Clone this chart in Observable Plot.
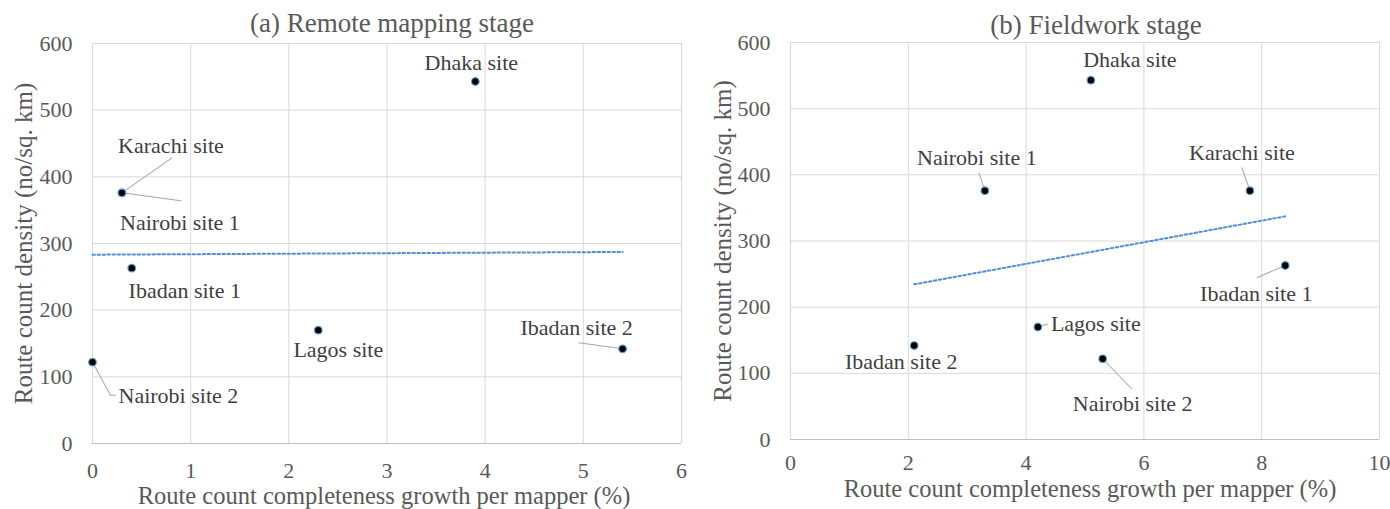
<!DOCTYPE html>
<html>
<head>
<meta charset="utf-8">
<script src="https://cdn.jsdelivr.net/npm/d3@7"></script>
<script src="https://cdn.jsdelivr.net/npm/@observablehq/plot@0.6"></script>
<style>
  html, body { margin: 0; padding: 0; background: #fff; }
  #wrap { display: flex; width: 1390px; height: 509px; }
  #wrap svg, #wrap svg text { font-family: "Liberation Serif", "Times New Roman", serif !important; }
</style>
</head>
<body>
<div id="wrap"></div>
<script>
// ---- data ----
const sites = ["Dhaka site", "Karachi site", "Nairobi site 1", "Ibadan site 1", "Lagos site", "Ibadan site 2", "Nairobi site 2"];
const density = [543, 376, 376, 263, 170, 142, 122];
const growthRemote = [3.9, 0.3, 0.3, 0.4, 2.3, 5.4, 0];
const growthField = [5.1, 7.8, 3.3, 8.4, 4.2, 2.1, 5.3];
const xTicksRemote = [0, 1, 2, 3, 4, 5, 6];
const xTicksField = [0, 2, 4, 6, 8, 10];
const yTicks = [0, 100, 200, 300, 400, 500, 600];
const titleRemote = "(a) Remote mapping stage";
const titleField = "(b) Fieldwork stage";
const xLabel = "Route count completeness growth per mapper (%)";
const yLabel = "Route count density (no/sq. km)";

// ---- label layout (pixel offsets from the point) ----
const layoutRemote = {
  "Dhaka site":     {dx: -4, dy: -19, anchor: "middle"},
  "Karachi site":   {dx: 49, dy: -47, anchor: "middle", leaders: [[0, 0, 50, -35]]},
  "Nairobi site 1": {dx: 58, dy: 30, anchor: "middle", leaders: [[0, 0, 59, 8]]},
  "Ibadan site 1":  {dx: 53, dy: 23, anchor: "middle"},
  "Lagos site":     {dx: 20, dy: 20, anchor: "middle"},
  "Ibadan site 2":  {dx: -46, dy: -21, anchor: "middle", leaders: [[0, 0, -44, -6]]},
  "Nairobi site 2": {dx: 26, dy: 34, anchor: "start", leaders: [[0, 0, 18, 33], [18, 33, 23, 33]]}
};
const layoutField = {
  "Dhaka site":     {dx: 39, dy: -20, anchor: "middle"},
  "Karachi site":   {dx: -8, dy: -38, anchor: "middle", leaders: [[0, 0, -8, -23]]},
  "Nairobi site 1": {dx: -8, dy: -33, anchor: "middle", leaders: [[0, 0, -6, -18]]},
  "Ibadan site 1":  {dx: -29, dy: 28, anchor: "middle", leaders: [[0, 0, -28, 12]]},
  "Lagos site":     {dx: 13, dy: -3, anchor: "start", leaders: [[0, 0, 10, -3]]},
  "Ibadan site 2":  {dx: -13, dy: 16, anchor: "middle"},
  "Nairobi site 2": {dx: 30, dy: 45, anchor: "middle", leaders: [[0, 0, 29, 30]]}
};

const leaderShape = {
  draw(context, l) { context.moveTo(0, 0); context.lineTo(0, -l); }
};

const TEXT = "#595959";
const FONT = "Liberation Serif";

function panel(growth, xTicks, layout, title, m, extra) {
  const data = sites.map((s, i) => ({site: s, x: growth[i], y: density[i]}));
  const labelMarks = [];
  const leaderMarks = [];
  for (const d of data) {
    const L = layout[d.site];
    labelMarks.push(Plot.text([d], {
      x: "x", y: "y", text: "site", dx: L.dx, dy: L.dy, textAnchor: L.anchor,
      fontSize: 22, fontFamily: FONT, fill: "#404040"
    }));
    for (const [x0, y0, x1, y1] of (L.leaders || [])) {
      const ddx = x1 - x0, ddy = y1 - y0;
      leaderMarks.push(Plot.vector([d], {
        x: "x", y: "y", dx: x0, dy: y0,
        length: Math.hypot(ddx, ddy),
        rotate: Math.atan2(ddx, -ddy) * 180 / Math.PI,
        anchor: "start", shape: leaderShape,
        stroke: "#a6a6a6", strokeWidth: 1
      }));
    }
  }
  return Plot.plot({
    width: 695, height: 509,
    marginTop: m.top, marginBottom: m.bottom, marginLeft: m.left, marginRight: m.right,
    style: {fontFamily: FONT, fontSize: "22px", color: TEXT, background: "#fff", overflow: "visible"},
    x: {domain: [xTicks[0], xTicks[xTicks.length - 1]]},
    y: {domain: [0, 600]},
    marks: [
      Plot.gridX(xTicks, {stroke: "#d9d9d9", strokeOpacity: 1}),
      Plot.gridY(yTicks, {stroke: "#d9d9d9", strokeOpacity: 1}),
      Plot.ruleY([0], {stroke: "#bfbfbf", strokeWidth: 1}),
      Plot.linearRegressionY(data, {x: "x", y: "y", ci: 0, stroke: "#4f8fd6", strokeWidth: 2, strokeDasharray: "2.5,2.5"}),
      ...leaderMarks,
      Plot.dot(data, {x: "x", y: "y", r: 3.8, fill: "#000", stroke: "#5B9BD5", strokeWidth: 1.2}),
      ...labelMarks,
      Plot.axisX(xTicks, {tickSize: 0, tickPadding: m.xPad, label: null, fill: TEXT, fontSize: 22, fontFamily: FONT}),
      Plot.axisY(yTicks, {tickSize: 0, tickPadding: 20, label: null, fill: TEXT, fontSize: 22, fontFamily: FONT}),
      Plot.text([title], {frameAnchor: "top", textAnchor: "middle", lineAnchor: "middle", dx: extra.titleDx, dy: extra.titleDy, fontSize: 27, fontFamily: FONT, fill: TEXT}),
      Plot.text([xLabel], {frameAnchor: "bottom", textAnchor: "middle", lineAnchor: "middle", dx: extra.xlDx, dy: extra.xlDy, fontSize: 24.5, fontFamily: FONT, fill: TEXT}),
      Plot.text([yLabel], {frameAnchor: "left", textAnchor: "middle", lineAnchor: "middle", dx: extra.ylDx, rotate: -90, fontSize: 25, fontFamily: FONT, fill: TEXT})
    ]
  });
}

const wrap = document.getElementById("wrap");
wrap.append(panel(growthRemote, xTicksRemote, layoutRemote, titleRemote,
  {top: 43, bottom: 66, left: 92, right: 14, xPad: 19},
  {titleDx: 5, titleDy: -20, xlDx: -3, xlDy: 53, ylDx: -69}));
wrap.append(panel(growthField, xTicksField, layoutField, titleField,
  {top: 42, bottom: 70, left: 95, right: 11, xPad: 15},
  {titleDx: 11, titleDy: -17, xlDx: 5, xlDy: 50, ylDx: -68}));
</script>
</body>
</html>
